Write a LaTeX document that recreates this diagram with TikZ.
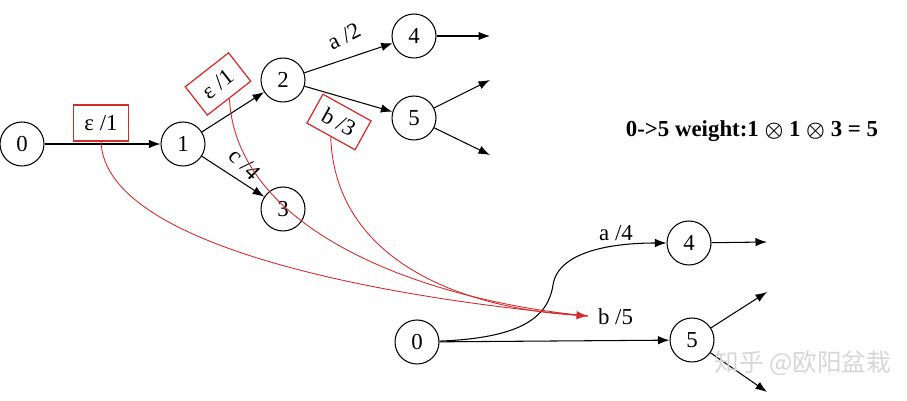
\documentclass[tikz,border=0pt]{standalone}
\usepackage{fontspec}
\setmainfont{Liberation Serif}
\newfontfamily\cjkfont{Noto Sans CJK SC}
\usetikzlibrary{arrows.meta}
\definecolor{fstRed}{HTML}{D42A2A}
\definecolor{fstMark}{HTML}{D6D6D6}
\tikzset{
  %% -- States and arcs ------------------------------------------------
  etat/.style      = {draw, circle, minimum size=0.88cm, inner sep=0pt,
                      line width=0.6pt, font=\fontsize{13}{15}\selectfont},
  arc/.style       = {-{Latex[length=2.3mm, width=1.7mm]}, line width=0.6pt},
  %% -- Red annotations -----------------------------------------------
  boite/.style     = {draw=fstRed, line width=0.7pt, minimum width=1.1cm,
                      minimum height=0.72cm, inner sep=2pt,
                      font=\fontsize{13}{15}\selectfont},
  lien/.style      = {draw=fstRed, line width=0.5pt},
  lienFleche/.style = {lien, -{Latex[length=2.3mm, width=1.7mm]}},
  %% -- Text -------------------------------------------------------------
  etiquette/.style = {font=\fontsize{13}{15}\selectfont, inner sep=1pt},
  bilan/.style     = {font=\fontsize{13}{15}\selectfont\bfseries\boldmath},
}

\begin{document}
\begin{tikzpicture}[x=0.02cm, y=-0.02cm]
\useasboundingbox (0,0) rectangle (907,401);

%% Le transducteur du haut.
\node[etat] (h0) at (22,144)  {0};
\node[etat] (h1) at (183,144) {1};
\node[etat] (h2) at (283,80)  {2};
\node[etat] (h3) at (283,209) {3};
\node[etat] (h4) at (414,36)  {4};
\node[etat] (h5) at (414,118) {5};

\coordinate (h4s) at (490,36);
\coordinate (h5a) at (490,80);
\coordinate (h5b) at (490,155);

\foreach \a/\b in {h0/h1, h1/h2, h1/h3, h2/h4, h2/h5, h4/h4s, h5/h5a, h5/h5b}
  \draw[arc] (\a) -- (\b);

\node[etiquette, rotate=27]  (la2) at (344,36)  {a /2};
\node[etiquette, rotate=-45] (lc4) at (245,164) {c /4};

%% Les boites rouges des poids.
\node[boite] (e01) at (101,123) {ε /1};
\node[boite, rotate=38] (e12) at (218,84) {ε /1};
\node[boite, rotate=-29, minimum height=0.66cm] (b25) at (339,122) {b /3};

%% Le transducteur du bas.
\node[etat] (b0) at (417,342) {0};
\node[etat] (b4) at (689,243) {4};
\node[etat] (b5) at (692,340) {5};

\coordinate (b4s) at (767,242);
\coordinate (b5a) at (767,292);
\coordinate (b5b) at (767,392);

\draw[arc] (b0) .. controls (520,338) and (548,318) .. (553,285)
                .. controls (558,252) and (610,243) .. (b4);
\draw[arc] (b0) -- (b5);
\foreach \a/\b in {b4/b4s, b5/b5a, b5/b5b}
  \draw[arc] (\a) -- (\b);

\node[etiquette] (la4) at (616,233) {a /4};
\node[etiquette, anchor=west] (lb5) at (596,317) {b /5};

%% Les trois poids qui se composent en b /5.
\coordinate (fin) at (588,316);
\draw[lien] (e01.south) .. controls (105,250) and (400,300) .. (fin);
\draw[lien] (e12.south) .. controls (236,230) and (420,300) .. (fin);
\draw[lienFleche] (b25.south) .. controls (335,260) and (460,308) .. (fin);

\node[bilan] (poids) at (752,131)
     {0->5 weight:1 {\large$\otimes$} 1 {\large$\otimes$} 3 = 5};

\node[font=\cjkfont\fontsize{14}{16}\selectfont, text=fstMark] (marque)
     at (803,363) {知乎 @欧阳盆栽};

\end{tikzpicture}
\end{document}
